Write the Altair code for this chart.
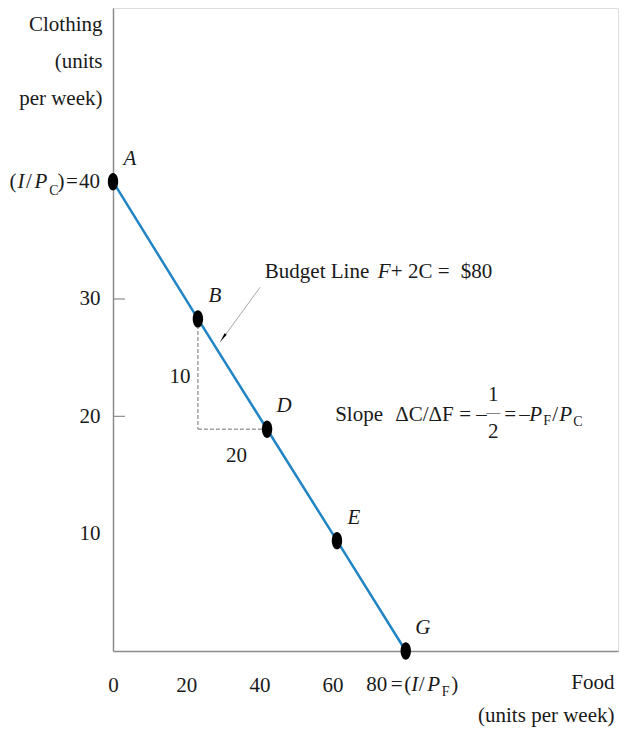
import altair as alt
import pandas as pd

# ---------------- data ----------------
point_names = ["A", "B", "D", "E", "G"]
food = [0.0, 23.2, 42.1, 61.2, 80.0]          # units per week
clothing = [40.0, 28.3, 18.9, 9.4, 0.0]       # units per week

x_tick_values = [0, 20, 40, 60]
y_tick_values = [10, 20, 30]
y_inner_ticks = [20, 30]

triangle_labels = ["10", "20"]

arrow_food = [40.2, 29.2]
arrow_clothing = [31.0, 26.3]
arrowhead_food = [30.3]
arrowhead_clothing = [26.8]

budget_anchor_food = [41.5]
budget_anchor_clothing = [32.3]
slope_anchor_food = [60.7]
slope_anchor_clothing = [20.1]

x_title = ["Food", "(units per week)"]
y_title = ["Clothing", "(units", "per week)"]

# ---------------- styling ----------------
SERIF = "Liberation Serif"
TXT = "#1a1a1a"
AXIS = "#8c8c8c"
BLUE = "#2185c5"
FS = 21
SUB = 14
# slightly tall ellipse dot, as in the source figure
DOT = "M -0.6 0 A 0.6 1 0 1 0 0.6 0 A 0.6 1 0 1 0 -0.6 0 Z"

xs = alt.Scale(domain=[0, 138], nice=False, zero=False)
ys = alt.Scale(domain=[0, 54.8], nice=False, zero=False)

xa = alt.Axis(values=x_tick_values, ticks=False, tickSize=0, grid=False,
              domainColor=AXIS, domainWidth=1.5,
              labelFont=SERIF, labelFontSize=FS, labelColor=TXT,
              labelPadding=34, labelBaseline="middle", labelFlush=False,
              title=x_title, titleFont=SERIF, titleFontSize=FS,
              titleFontWeight="normal", titleColor=TXT, titleAngle=0,
              titleAlign="right", titleBaseline="alphabetic",
              titleX=501, titleY=37, titleLineHeight=33)
ya = alt.Axis(values=y_tick_values, ticks=False, tickSize=0, grid=False,
              domainColor=AXIS, domainWidth=1.5,
              labelFont=SERIF, labelFontSize=FS, labelColor=TXT,
              labelPadding=13, labelFlush=False,
              title=y_title, titleFont=SERIF, titleFontSize=FS,
              titleFontWeight="normal", titleColor=TXT, titleAngle=0,
              titleAlign="right", titleBaseline="alphabetic",
              titleX=-11, titleY=22, titleLineHeight=37)

pts = pd.DataFrame({"x": food, "y": clothing, "name": point_names})


def enc(chart):
    return chart.encode(x=alt.X("x:Q", scale=xs, axis=xa),
                        y=alt.Y("y:Q", scale=ys, axis=ya))


def piece(df, text, dx, dy, size=FS, italic=False, align="center"):
    return enc(alt.Chart(df).mark_text(
        text=text, dx=dx, dy=dy, fontSize=size, font=SERIF,
        fontStyle="italic" if italic else "normal",
        align=align, baseline="middle", color=TXT))


layers = []

# budget line (carries the axes)
layers.append(enc(alt.Chart(pts).mark_line(color=BLUE, strokeWidth=2.5)))

# inward y ticks
tick_df = pd.DataFrame({"y": y_inner_ticks})
layers.append(alt.Chart(tick_df).mark_rule(color=AXIS, strokeWidth=1.2).encode(
    x=alt.value(0), x2=alt.value(12), y=alt.Y("y:Q", scale=ys, axis=ya)))

# dashed slope triangle B -> D
seg = pd.DataFrame({
    "x": [food[1], food[1]], "y": [clothing[1], clothing[2]],
    "x2": [food[1], food[2]], "y2": [clothing[2], clothing[2]]})
layers.append(enc(alt.Chart(seg).mark_rule(color="#a0a0a0", strokeWidth=1.5,
                                           strokeDash=[4, 2])).encode(x2="x2:Q", y2="y2:Q"))

# triangle labels
tri_v = pd.DataFrame({"x": [food[1]], "y": [(clothing[1] + clothing[2]) / 2]})
tri_h = pd.DataFrame({"x": [(food[1] + food[2]) / 2], "y": [clothing[2]]})
layers.append(piece(tri_v, triangle_labels[0], -18, 3))
layers.append(piece(tri_h, triangle_labels[1], 4, 27))

# arrow
arr = pd.DataFrame({"x": [arrow_food[0]], "y": [arrow_clothing[0]],
                    "x2": [arrow_food[1]], "y2": [arrow_clothing[1]]})
layers.append(enc(alt.Chart(arr).mark_rule(color="#a8a8a8", strokeWidth=1)).encode(
    x2="x2:Q", y2="y2:Q"))
head = pd.DataFrame({"x": arrowhead_food, "y": arrowhead_clothing})
layers.append(enc(alt.Chart(head).mark_point(shape="wedge", filled=True, color="black",
                                             opacity=1, size=110, angle=216)))

# points
layers.append(enc(alt.Chart(pts).mark_point(shape=DOT, filled=True, color="black",
                                            opacity=1, size=300, strokeWidth=0)))

# point labels
layers.append(enc(alt.Chart(pts).mark_text(
    dx=17, dy=-23, fontSize=FS, font=SERIF, fontStyle="italic",
    color=TXT, align="center", baseline="middle")).encode(text="name:N"))

# y label "(I/P_C) = 40" at A
a_df = pd.DataFrame({"x": [food[0]], "y": [clothing[0]]})
for t, dx, dy, sz, it, al in [
        ("40", -13, 0, FS, False, "right"),
        ("=", -41, 0, FS, False, "center"),
        (")", -52, 0, FS, False, "center"),
        ("C", -59, 9, SUB, False, "center"),
        ("P", -72, 0, FS, True, "center"),
        ("/", -84, 0, FS, False, "center"),
        ("I", -92, 0, FS, True, "center"),
        ("(", -100, 0, FS, False, "center")]:
    layers.append(piece(a_df, t, dx, dy, sz, it, al))

# x label "80 = (I/P_F)" at G
g_df = pd.DataFrame({"x": [food[4]], "y": [clothing[4]]})
for t, dx, dy, sz, it in [
        ("80", -29, 34, FS, False),
        ("=", -9, 34, FS, False),
        ("(", 2, 34, FS, False),
        ("I", 9, 34, FS, True),
        ("/", 16, 34, FS, False),
        ("P", 28, 34, FS, True),
        ("F", 40, 41, SUB, False),
        (")", 49, 34, FS, False)]:
    layers.append(piece(g_df, t, dx, dy, sz, it, "center"))

# Budget line annotation
b_df = pd.DataFrame({"x": budget_anchor_food, "y": budget_anchor_clothing})
for t, dx, it in [("Budget Line", 0, False), ("F", 113, True),
                  ("+ 2C =", 126, False), ("$80", 196, False)]:
    layers.append(piece(b_df, t, dx, 0, FS, it, "left"))

# Slope annotation
s_df = pd.DataFrame({"x": slope_anchor_food, "y": slope_anchor_clothing})
for t, dx, dy, sz, it, al in [
        ("Slope", 0, 0, FS, False, "left"),
        ("ΔC/ΔF", 60, 0, FS, False, "left"),
        ("=", 124, 0, FS, False, "left"),
        ("–", 141, 0, FS, False, "left"),
        ("1", 158, -20, FS, False, "center"),
        ("—", 158, -2, SUB, False, "center"),
        ("2", 158, 17, FS, False, "center"),
        ("=", 169, 0, FS, False, "left"),
        ("–", 184, 0, FS, False, "left"),
        ("P", 194, 0, FS, True, "left"),
        ("F", 208, 6, SUB, False, "left"),
        ("/", 217, 0, FS, False, "left"),
        ("P", 224, 0, FS, True, "left"),
        ("C", 238, 7, SUB, False, "left")]:
    layers.append(piece(s_df, t, dx, dy, sz, it, al))

chart = alt.layer(*layers).properties(
    width=505, height=643,
    autosize=alt.AutoSizeParams(type="none"),
    padding={"left": 105, "top": 0, "right": 3, "bottom": 81},
).configure_view(strokeWidth=0).configure(background="white")

chart.save("out.html", embed_options={"renderer": "svg", "actions": False})
